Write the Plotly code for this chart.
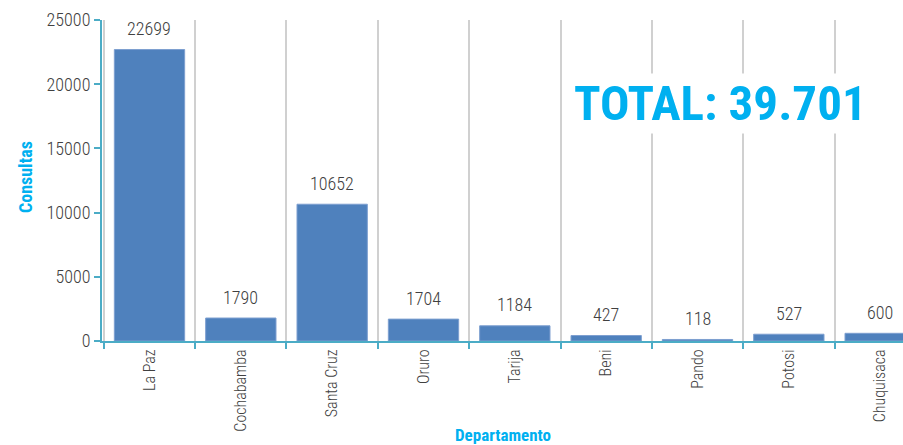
import plotly.graph_objects as go

departamentos = ["La Paz", "Cochabamba", "Santa Cruz", "Oruro", "Tarija", "Beni", "Pando", "Potosi", "Chuquisaca"]
consultas = [22699, 1790, 10652, 1704, 1184, 427, 118, 527, 600]
y_ticks = [0, 5000, 10000, 15000, 20000, 25000]
total_label = "TOTAL: 39.701"

FONT = "Roboto Condensed, Liberation Sans Narrow, Arial Narrow, Roboto, sans-serif"
BLUE_T = "#00b0f0"
AXIS = "#4bacc6"
TXT = "#404040"

W, H = 903, 445
L, R, T, B = 102, 0, 20, 104
ph = H - T - B

fig = go.Figure()
fig.add_trace(go.Bar(
    x=departamentos, y=consultas,
    marker=dict(color="#4f81bd", line=dict(color="#7d9fd0", width=1)),
    width=0.77,
    hoverinfo="x+y",
))

ann = []
for d, v in zip(departamentos, consultas):
    ann.append(dict(x=d, y=v, xref="x", yref="y", text=str(v), showarrow=False,
                    yanchor="middle", yshift=21,
                    font=dict(family=FONT, size=18, color=TXT, weight=300)))

ann.append(dict(x=(720 - L) / (W - L - R), xref="paper", y=(H - B - 103) / ph, yref="paper",
                text="<b>" + total_label + "</b>", showarrow=False, xanchor="center", yanchor="middle",
                bgcolor="white", font=dict(family=FONT, size=49, color=BLUE_T)))
ann.append(dict(x=(503 - L) / (W - L - R), xref="paper", y=-(435 - (H - B)) / ph, yref="paper",
                text="<b>Departamento</b>", showarrow=False, xanchor="center", yanchor="middle",
                font=dict(family=FONT, size=17, color=BLUE_T)))
ann.append(dict(x=-(L - 25) / (W - L - R), xref="paper", y=(H - B - 177) / ph, yref="paper",
                text="<b>Consultas</b>", showarrow=False, xanchor="center", yanchor="middle",
                textangle=-90, font=dict(family=FONT, size=18, color=BLUE_T)))

fig.update_layout(
    width=W, height=H,
    margin=dict(l=L, r=R, t=T, b=B, pad=0),
    plot_bgcolor="white", paper_bgcolor="white",
    showlegend=False,
    bargap=0.23,
    annotations=ann,
    xaxis=dict(
        type="category", tickson="boundaries",
        range=[-0.52, 8.25],
        showline=True, linecolor=AXIS, linewidth=2,
        ticks="outside", ticklen=6, tickcolor=AXIS, tickwidth=2,
        showgrid=True, gridcolor="#d0d0d0", gridwidth=2,
        tickangle=-90,
        tickfont=dict(family=FONT, size=16, color=TXT, weight=300),
    ),
    yaxis=dict(
        range=[0, 25000], tickvals=y_ticks, ticktext=[str(t) for t in y_ticks],
        showline=True, linecolor=AXIS, linewidth=2,
        ticks="outside", ticklen=6, tickcolor=AXIS, tickwidth=2,
        showgrid=False, zeroline=False,
        tickfont=dict(family=FONT, size=18, color=TXT, weight=300),
    ),
)

fig.write_html("out.html", config={"displayModeBar": False},
               post_script="document.body.style.margin='0';document.body.style.overflow='hidden';")
